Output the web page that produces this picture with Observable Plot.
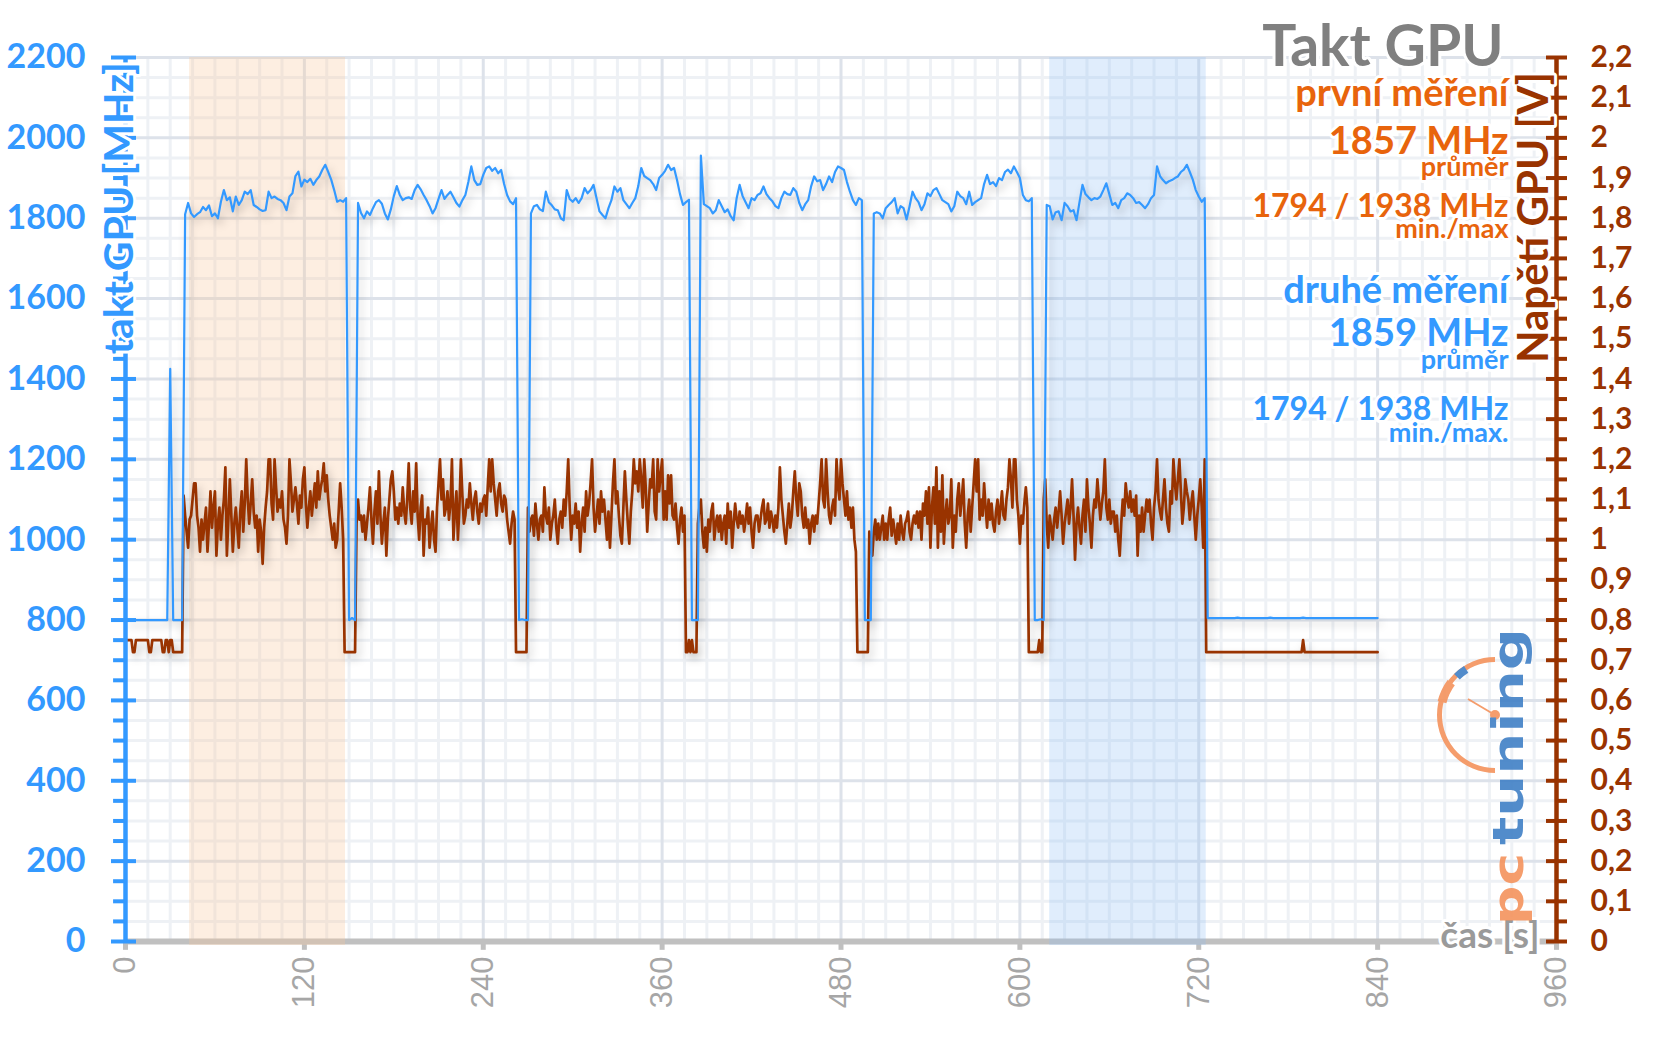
<!DOCTYPE html>
<html><head><meta charset="utf-8">
<script src="https://cdn.jsdelivr.net/npm/d3@7"></script>
<script src="https://cdn.jsdelivr.net/npm/@observablehq/plot@0.6"></script>
<style>body{margin:0;background:#fff}#chart svg{display:block}</style>
</head><body><div id="chart"></div>
<script>
// ---------- data ----------
const clockStep = 2; // seconds between clock samples
const clockMHz = [
800,800,800,800,800,800,800,800,800,800,
800,800,800,800,800,1425,800,800,800,800,
1810,1838,1812,1803,1810,1815,1828,1820,1832,1805,
1812,1800,1841,1870,1845,1852,1817,1854,1833,1845,
1866,1860,1870,1833,1828,1822,1818,1820,1866,1850,
1854,1848,1845,1838,1820,1854,1862,1905,1916,1879,
1896,1890,1898,1883,1895,1904,1920,1933,1915,1896,
1870,1841,1845,1841,1850,800,805,800,1838,1813,
1800,1817,1808,1825,1840,1845,1836,1812,1797,1822,
1855,1880,1858,1845,1850,1852,1848,1870,1883,1872,
1858,1845,1830,1812,1825,1848,1870,1848,1858,1866,
1852,1838,1829,1845,1858,1890,1929,1895,1883,1885,
1908,1925,1929,1918,1925,1912,1920,1885,1858,1842,
1835,1850,800,802,800,800,1812,1830,1833,1822,
1818,1866,1840,1832,1822,1820,1800,1795,1870,1848,
1841,1850,1838,1850,1875,1862,1870,1883,1850,1817,
1808,1800,1825,1845,1879,1866,1875,1845,1835,1825,
1838,1850,1880,1925,1905,1900,1895,1885,1870,1900,
1908,1918,1933,1920,1925,1895,1860,1833,1840,1846,
800,800,800,1956,1835,1830,1825,1812,1820,1845,
1830,1815,1822,1805,1795,1850,1883,1855,1840,1825,
1850,1845,1858,1862,1879,1860,1850,1842,1830,1825,
1850,1866,1860,1858,1875,1866,1838,1820,1835,1845,
1880,1904,1892,1895,1870,1885,1904,1890,1915,1929,
1925,1920,1890,1866,1845,1833,1850,1845,800,800,
800,1812,1815,1812,1800,1825,1833,1840,1850,1812,
1830,1825,1797,1830,1866,1850,1840,1820,1835,1862,
1855,1870,1875,1860,1845,1840,1835,1817,1830,1866,
1855,1850,1835,1866,1833,1840,1845,1850,1885,1908,
1885,1890,1880,1900,1895,1915,1921,1912,1929,1915,
1900,1858,1845,1842,1850,800,800,802,800,1833,
1830,1797,1815,1817,1795,1838,1830,1817,1820,1795,
1840,1883,1860,1852,1845,1850,1848,1854,1870,1887,
1860,1833,1838,1825,1845,1850,1862,1858,1850,1838,
1840,1833,1825,1835,1850,1858,1929,1905,1895,1887,
1892,1895,1900,1904,1915,1921,1933,1915,1896,1870,
1854,1841,1850,805,805,805,805,805,805,805,
805,805,805,806,805,805,805,805,805,805,
805,805,805,805,806,805,805,805,805,805,
805,805,805,805,805,806,805,805,805,805,
805,805,805,805,805,805,805,805,805,805,
805,805,805,805,805,805,805,805,805,805,
805];

const voltStep = 1; // seconds between voltage samples
const voltV = [
0.75,0.75,0.75,0.75,0.75,0.72,0.72,0.75,0.75,0.75,0.75,0.75,0.75,0.75,0.75,0.75,0.72,0.72,0.75,0.75,
0.75,0.75,0.75,0.75,0.75,0.72,0.72,0.75,0.75,0.72,0.75,0.75,0.72,0.72,0.72,0.72,0.72,0.72,0.72,1.11,
1.06,1.02,0.98,1.05,1.06,1.10,1.14,1.14,1.06,1.03,0.97,1.05,1.00,1.04,1.08,0.97,1.04,1.12,1.03,1.08,
1.12,0.96,1.04,1.08,1.00,1.06,1.10,1.18,0.96,1.05,1.15,1.06,0.97,1.04,1.08,1.03,0.98,1.07,1.12,1.02,
1.09,1.20,1.10,1.04,1.09,1.15,1.07,1.03,1.06,0.97,1.05,1.02,0.94,1.03,1.08,1.12,1.20,1.20,1.09,1.05,
1.20,1.13,1.07,1.10,1.08,1.12,1.05,1.03,0.99,1.06,1.20,1.14,1.07,1.10,1.13,1.09,1.04,1.11,1.08,1.15,
1.18,1.09,1.03,1.08,1.12,1.06,1.10,1.14,1.08,1.17,1.10,1.13,1.15,1.19,1.12,1.16,1.10,1.06,1.03,1.00,
1.04,0.98,1.00,1.07,1.14,1.08,1.00,0.72,0.72,0.72,0.72,0.72,0.72,0.72,0.72,1.04,1.10,1.05,1.06,1.02,
1.06,1.00,1.04,1.08,1.13,1.05,0.99,1.07,1.12,1.04,1.17,1.06,0.99,1.04,1.08,0.96,1.05,1.10,1.15,1.17,
1.12,1.05,1.08,1.04,1.09,1.06,1.13,1.07,1.04,1.10,1.19,1.08,1.04,1.12,1.07,1.19,1.06,1.00,1.08,1.11,
0.96,1.05,1.04,1.08,0.98,1.03,1.07,1.00,0.97,1.08,1.14,1.20,1.10,1.15,1.06,1.08,1.12,1.05,1.09,1.20,
1.00,1.07,1.12,1.00,1.08,1.20,1.11,1.04,1.06,1.10,1.08,1.14,1.09,1.05,1.10,1.12,1.07,1.04,1.09,1.07,
1.10,1.11,1.06,1.13,1.20,1.12,1.20,1.14,1.10,1.06,1.12,1.14,1.09,1.07,1.11,1.10,1.05,1.02,0.99,1.04,
1.07,1.05,0.72,0.72,0.72,0.72,0.72,0.72,0.72,0.72,1.08,1.02,1.05,1.06,1.01,1.09,1.04,1.00,1.05,1.06,
1.02,1.13,1.06,1.04,1.08,1.00,1.04,1.06,1.10,1.03,0.99,1.05,1.07,1.03,1.10,1.06,1.12,1.20,1.08,1.00,
1.06,1.04,1.09,1.03,1.07,0.97,1.04,1.08,1.02,1.12,1.06,1.09,1.14,1.20,1.08,1.02,1.06,1.10,1.04,1.12,
1.07,1.10,1.05,1.00,1.07,0.98,1.06,1.14,1.20,1.09,1.12,1.06,1.01,0.99,1.08,1.17,1.10,1.04,0.99,1.07,
1.12,1.20,1.14,1.17,1.12,1.20,1.15,1.08,1.20,1.13,1.02,1.09,1.15,1.13,1.20,1.07,1.05,1.20,1.12,1.16,
1.20,1.05,1.12,1.05,1.16,1.09,1.16,1.06,1.05,1.09,1.03,0.99,1.05,1.08,1.02,1.06,0.72,0.72,0.75,0.72,
0.75,0.72,0.72,0.72,1.04,1.08,1.10,1.02,0.98,1.03,0.97,1.05,1.02,1.07,1.09,1.00,1.04,1.06,1.02,1.06,
1.00,1.04,1.06,0.99,1.09,1.03,1.07,0.98,1.04,1.09,1.05,1.03,1.07,1.04,1.06,1.02,1.05,1.09,1.04,1.08,
1.02,0.98,1.04,1.06,1.06,1.02,1.05,1.08,1.10,1.04,1.05,1.09,1.03,1.07,1.05,1.02,1.06,1.03,1.08,1.18,
1.10,1.06,1.02,0.99,1.04,1.09,1.03,1.06,1.12,1.17,1.10,1.06,1.14,1.12,1.06,1.03,1.08,1.03,1.05,0.99,
1.04,1.06,1.02,1.06,1.04,1.09,1.14,1.20,1.10,1.08,1.20,1.12,1.06,1.04,1.08,1.10,1.06,1.20,1.13,1.10,
1.20,1.14,1.10,1.06,1.12,1.05,1.08,1.03,1.08,1.00,0.97,0.72,0.72,0.72,0.72,0.72,0.72,0.72,0.72,1.02,
0.98,0.96,1.02,1.05,1.00,1.04,1.00,1.03,1.06,1.00,1.04,1.00,1.05,1.08,1.01,1.05,1.02,0.99,1.04,1.00,
1.06,1.02,1.00,1.04,1.05,1.07,1.02,1.00,1.04,1.06,1.04,1.07,1.03,1.07,1.00,1.09,1.06,1.12,1.04,1.13,
0.98,1.08,1.13,1.04,1.18,0.98,1.12,1.02,1.16,0.99,1.06,1.10,1.04,1.06,1.15,0.98,1.06,1.02,1.10,1.14,
1.06,1.10,1.15,1.04,0.98,1.06,1.10,1.02,1.08,1.14,1.20,1.12,1.20,1.05,1.10,1.06,1.14,1.08,1.03,1.10,
1.05,1.09,1.04,1.02,1.07,1.10,1.04,1.08,1.12,1.06,1.05,1.10,1.13,1.20,1.15,1.08,1.20,1.20,1.10,1.06,
0.99,1.06,1.04,1.09,1.13,1.08,0.72,0.72,0.72,0.72,0.72,0.72,0.72,0.75,0.72,0.72,1.10,1.15,1.04,0.98,
1.06,1.03,1.00,1.05,1.08,1.03,1.07,1.12,1.06,0.99,1.04,1.07,1.10,1.04,1.08,1.15,1.06,0.95,1.04,1.08,
1.03,0.99,1.06,1.10,1.02,1.15,1.08,1.04,0.98,1.06,1.10,1.08,1.15,1.10,1.05,1.09,1.12,1.20,1.08,1.05,
1.10,1.04,1.07,1.07,1.02,1.06,1.00,0.96,1.04,1.10,1.06,1.14,1.10,1.08,1.12,1.07,1.10,1.06,1.11,0.96,
1.06,1.02,1.08,1.02,1.06,1.10,1.07,1.10,1.04,1.00,1.08,1.12,1.20,1.10,1.07,1.05,1.10,1.15,1.08,1.04,
1.02,1.12,1.09,1.20,1.14,1.10,1.15,1.20,1.12,1.04,1.08,1.15,1.12,1.10,1.05,1.09,1.12,1.06,1.00,1.06,
1.10,1.15,1.08,0.98,1.20,0.72,0.72,0.72,0.72,0.72,0.72,0.72,0.72,0.72,0.72,0.72,0.72,0.72,0.72,0.72,
0.72,0.72,0.72,0.72,0.72,0.72,0.72,0.72,0.72,0.72,0.72,0.72,0.72,0.72,0.72,0.72,0.72,0.72,0.72,0.72,
0.72,0.72,0.72,0.72,0.72,0.72,0.72,0.72,0.72,0.72,0.72,0.72,0.72,0.72,0.72,0.72,0.72,0.72,0.72,0.72,
0.72,0.72,0.72,0.72,0.72,0.72,0.72,0.72,0.72,0.72,0.75,0.72,0.72,0.72,0.72,0.72,0.72,0.72,0.72,0.72,
0.72,0.72,0.72,0.72,0.72,0.72,0.72,0.72,0.72,0.72,0.72,0.72,0.72,0.72,0.72,0.72,0.72,0.72,0.72,0.72,
0.72,0.72,0.72,0.72,0.72,0.72,0.72,0.72,0.72,0.72,0.72,0.72,0.72,0.72,0.72,0.72,0.72,0.72,0.72,0.72,
0.72];

const xTicks = [0, 120, 240, 360, 480, 600, 720, 840, 960];
const yTicksMHz = [0, 200, 400, 600, 800, 1000, 1200, 1400, 1600, 1800, 2000, 2200];
const voltTickLabels = ["0","0,1","0,2","0,3","0,4","0,5","0,6","0,7","0,8","0,9","1",
  "1,1","1,2","1,3","1,4","1,5","1,6","1,7","1,8","1,9","2","2,1","2,2"];
const shadeStart = [43, 620];
const shadeEnd = [147.6, 725];
const titleText = "Takt GPU";
const firstRun = ["první měření", "1857 MHz", "průměr", "1794 / 1938 MHz", "min./max"];
const secondRun = ["druhé měření", "1859 MHz", "průměr", "1794 / 1938 MHz", "min./max."];
const yTitleLeft = "takt GPU [MHz]";
const yTitleRight = "Napětí GPU [V]";
const xTitle = "čas [s]";

// ---------- build ----------
const blue = "#3399ff", brown = "#993300", orange = "#e8640c";
const clockPts = clockMHz.map((v, i) => ({t: i * clockStep, v}));
const voltPts = voltV.map((v, i) => ({t: i * voltStep, mhz: v * 1000}));
const minorX = d3.range(0, 961, 15).filter(d => d % 120 !== 0);
const minorY = d3.range(0, 2201, 50).filter(d => d % 200 !== 0);
const voltTickPos = voltTickLabels.map((_, i) => i * 100);
const voltMinor = voltTickPos.slice(0, -1).map(d => d + 50);
const leftMinor = d3.range(0, 2201, 50).filter(d => d % 200 !== 0);

const legendSizes = [38, 38, 27, 32, 27];
const legendY1 = [2080, 1959, 1904, 1804, 1750];
const legendY2 = [1590, 1483, 1424, 1299, 1242];
const leg1 = firstRun.map((s, i) => ({s, y: legendY1[i], size: legendSizes[i]}));
const leg2 = secondRun.map((s, i) => ({s, y: legendY2[i], size: legendSizes[i]}));
const font = "Lato, 'Open Sans', sans-serif";

const plot = Plot.plot({
  width: 1656, height: 1044,
  marginLeft: 125, marginRight: 100, marginTop: 57, marginBottom: 103,
  x: {domain: [0, 960]},
  y: {domain: [0, 2200]},
  style: {background: "#fff", fontFamily: font, overflow: "visible"},
  marks: [
    // grid
    Plot.ruleX(minorX, {stroke: "#eef1f5", strokeWidth: 3}),
    Plot.ruleY(minorY, {stroke: "#eef1f5", strokeWidth: 3}),
    Plot.ruleX(xTicks.slice(1, -1), {stroke: "#dde2ea", strokeWidth: 3}),
    Plot.ruleY(yTicksMHz.slice(1), {stroke: "#dde2ea", strokeWidth: 3}),
    // x axis line + ticks
    Plot.ruleY([0], {stroke: "#c0c0c0", strokeWidth: 6}),
    Plot.ruleX(xTicks, {y1: 0, y2: -22, stroke: "#c0c0c0", strokeWidth: 5}),
    // shaded measurement windows
    Plot.rect([0], {x1: shadeStart[0], x2: shadeEnd[0], y1: -10, y2: 2200, fill: "#f9c89a", fillOpacity: 0.3}),
    Plot.rect([1], {x1: shadeStart[1], x2: shadeEnd[1], y1: -10, y2: 2200, fill: "#8ec0f5", fillOpacity: 0.28}),
    // series
    Plot.line(voltPts, {x: "t", y: "mhz", stroke: brown, strokeWidth: 2.7, strokeLinejoin: "round"}),
    Plot.line(clockPts, {x: "t", y: "v", stroke: blue, strokeWidth: 2.2, strokeLinejoin: "round"}),
    // y axis lines and ticks
    Plot.ruleX([0], {stroke: blue, strokeWidth: 4.5}),
    Plot.ruleX([960], {stroke: brown, strokeWidth: 4.5}),
    Plot.ruleY(yTicksMHz, {x1: -9.4, x2: 7.4, stroke: blue, strokeWidth: 4}),
    Plot.ruleY(leftMinor, {x1: -8, x2: 0, stroke: blue, strokeWidth: 4}),
    Plot.ruleY(voltTickPos, {x1: 953.3, x2: 967.4, stroke: brown, strokeWidth: 4}),
    Plot.ruleY(voltMinor, {x1: 960, x2: 967.4, stroke: brown, strokeWidth: 4}),
    // tick labels
    Plot.axisY({anchor: "left", ticks: yTicksMHz, tickSize: 0, tickPadding: 40, tickFormat: d => String(d),
      fontSize: 34, fontWeight: "bold", color: blue, label: null}),
    Plot.axisY({anchor: "right", ticks: voltTickPos, tickSize: 0, tickPadding: 34,
      tickFormat: d => voltTickLabels[Math.round(d / 100)],
      fontSize: 30, fontWeight: "bold", color: brown, label: null}),
    Plot.axisX({ticks: xTicks, tickSize: 0, tickPadding: 15, tickRotate: -90, tickFormat: d => String(d),
      fontSize: 31, fontFamily: "'Liberation Sans', Arial, sans-serif", color: "#a6a6a6", label: null}),
    // axis titles
    Plot.text([yTitleLeft], {x: 4.7, y: 1825, text: d => d, rotate: -90, textAnchor: "middle", lineAnchor: "bottom",
      fontSize: 41, fontWeight: "bold", fill: blue, stroke: "white", strokeWidth: 6}),
    Plot.text([yTitleRight], {x: 954.6, y: 1802, text: d => d, rotate: -90, textAnchor: "middle", lineAnchor: "bottom",
      fontSize: 42, fontWeight: "bold", fill: brown, stroke: "white", strokeWidth: 6}),
    Plot.text([xTitle], {x: 948.6, y: -17, text: d => d, textAnchor: "end", lineAnchor: "bottom",
      fontSize: 37, fontWeight: "bold", fill: "#9a9a9a", stroke: "white", strokeWidth: 6}),
    // title & legend
    Plot.text([titleText], {x: 924.5, y: 2180, text: d => d, textAnchor: "end", lineAnchor: "bottom",
      fontSize: 57, fontWeight: "bold", fill: "#808080", stroke: "white", strokeWidth: 6}),
    Plot.text(leg1, {x: 927.8, y: "y", text: "s", fontSize: "size", textAnchor: "end", lineAnchor: "bottom",
      fontWeight: "bold", fill: orange, stroke: "white", strokeWidth: 6}),
    Plot.text(leg2, {x: 927.8, y: "y", text: "s", fontSize: "size", textAnchor: "end", lineAnchor: "bottom",
      fontWeight: "bold", fill: blue, stroke: "white", strokeWidth: 6})
  ]
});

plot.querySelectorAll('g[aria-label="line"]').forEach(g => {
  g.style.filter = "drop-shadow(3px 5px 4px rgba(0,0,0,0.22))";
});

// pctuning logo (decoration)
const lg = d3.select(plot).append("g").attr("opacity", 0.9).attr("text-anchor", "start");
const c = [1495, 715];
lg.append("path").attr("transform", `translate(${c})`)
  .attr("d", d3.arc()({innerRadius: 53, outerRadius: 58, startAngle: Math.PI, endAngle: 2 * Math.PI}))
  .attr("fill", "#f4925c");
lg.append("path").attr("transform", `translate(${c})`)
  .attr("d", d3.arc()({innerRadius: 50, outerRadius: 59, startAngle: 4.95, endAngle: 5.35}))
  .attr("fill", "#f4925c");
lg.append("path").attr("transform", `translate(${c})`)
  .attr("d", d3.arc()({innerRadius: 50, outerRadius: 58, startAngle: 5.5, endAngle: 5.72}))
  .attr("fill", "#3f7fc6");
lg.append("line").attr("x1", c[0]).attr("y1", c[1]).attr("x2", 1468).attr("y2", 699)
  .attr("stroke", "#f4925c").attr("stroke-width", 2);
lg.append("circle").attr("cx", c[0]).attr("cy", c[1]).attr("r", 5).attr("fill", "#f4925c");
lg.append("text").attr("transform", "translate(1523,925) rotate(-90)").attr("text-anchor", "start")
  .attr("font-family", "'DejaVu Sans', sans-serif").attr("font-weight", "bold").attr("font-size", 42)
  .attr("textLength", 72).attr("lengthAdjust", "spacingAndGlyphs").attr("fill", "#f4925c").text("pc");
lg.append("text").attr("transform", "translate(1523,845) rotate(-90)").attr("text-anchor", "start")
  .attr("font-family", "'DejaVu Sans', sans-serif").attr("font-weight", "bold").attr("font-size", 42)
  .attr("textLength", 217).attr("lengthAdjust", "spacingAndGlyphs").attr("fill", "#3f7fc6").text("tuning");

document.getElementById("chart").appendChild(plot);
</script>
</body></html>
